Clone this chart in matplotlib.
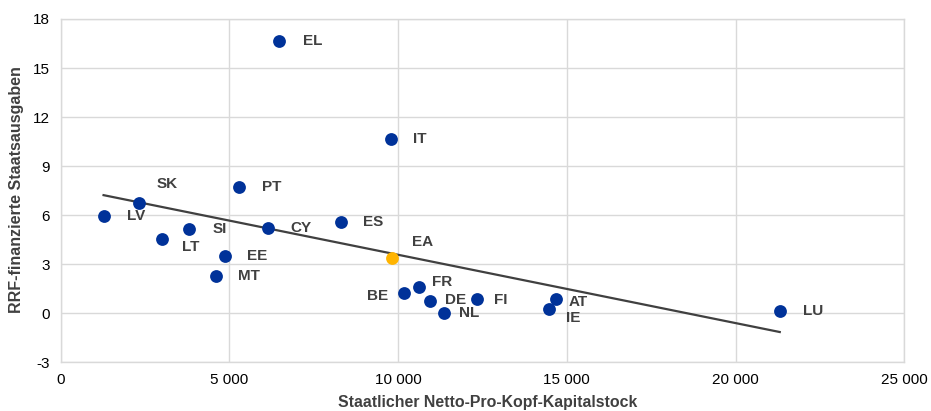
import numpy as np
import matplotlib
matplotlib.use("Agg")
import matplotlib.pyplot as plt
from matplotlib.ticker import FuncFormatter, MultipleLocator

plt.rcParams["font.family"] = ["Liberation Sans", "DejaVu Sans"]

# Country data: net public capital stock per capita vs. RRF-financed expenditure
countries = ["EL", "IT", "PT", "SK", "LV", "SI", "LT", "CY", "EE", "MT",
             "ES", "BE", "FR", "DE", "NL", "FI", "AT", "IE", "LU"]
capital_stock = [6475, 9775, 5280, 2310, 1270, 3810, 2990, 6130, 4870, 4590,
                 8320, 10180, 10610, 10930, 11370, 12350, 14690, 14480, 21310]
rrf_spending = [16.64, 10.66, 7.74, 6.75, 5.95, 5.14, 4.54, 5.24, 3.49, 2.26,
                5.58, 1.26, 1.63, 0.73, 0.0, 0.87, 0.87, 0.28, 0.14]

# Euro area aggregate
ea_label = "EA"
ea_capital_stock = 9830
ea_rrf_spending = 3.36

# Label placement (pixel offsets from each marker, horizontal alignment)
label_offsets = {
    "EL": (24, 0, "left"), "IT": (22, 0, "left"), "PT": (23, 0, "left"),
    "SK": (18, 19, "left"), "LV": (23, 0, "left"), "SI": (23, 0, "left"),
    "LT": (20, -8, "left"), "CY": (23, 0, "left"), "EE": (22, 0, "left"),
    "MT": (22, 0, "left"), "ES": (22, 0, "left"), "BE": (-16, -3, "right"),
    "FR": (13, 5, "left"), "DE": (15, 1, "left"), "NL": (15, 0, "left"),
    "FI": (17, -1, "left"), "AT": (12, -3, "left"), "IE": (17, -9, "left"),
    "LU": (23, 0, "left"), "EA": (20, 16, "left"),
}

BLUE = "#003299"
YELLOW = "#FFB400"
TEXT_GREY = "#404040"
GRID = "#d9d9d9"

fig = plt.figure(figsize=(9.31, 4.11), dpi=100)
ax = fig.add_axes([0.0652, 0.1185, 0.9061, 0.8353])

ax.set_xlim(0, 25000)
ax.set_ylim(-3, 18)
ax.xaxis.set_major_locator(MultipleLocator(5000))
ax.yaxis.set_major_locator(MultipleLocator(3))
ax.xaxis.set_major_formatter(FuncFormatter(lambda v, p: f"{int(v):,}".replace(",", " ")))
ax.yaxis.set_major_formatter(FuncFormatter(lambda v, p: f"{int(v)}"))
ax.tick_params(length=0, labelsize=11, colors="black", pad=8)
ax.grid(True, color=GRID, linewidth=1)
ax.set_axisbelow(True)
for s in ax.spines.values():
    s.set_color(GRID)
    s.set_linewidth(1)

# Linear trend across countries
xs = np.array(capital_stock, dtype=float)
ys = np.array(rrf_spending, dtype=float)
slope, intercept = np.polyfit(xs, ys, 1)
xline = np.array([xs.min(), xs.max()])
ax.plot(xline, slope * xline + intercept, color=TEXT_GREY, linewidth=1.6, zorder=2)

ax.scatter(capital_stock, rrf_spending, s=85, color=BLUE, zorder=3, linewidths=0)
ax.scatter([ea_capital_stock], [ea_rrf_spending], s=85, color=YELLOW, zorder=3, linewidths=0)

for name, x, y in list(zip(countries, capital_stock, rrf_spending)) + [(ea_label, ea_capital_stock, ea_rrf_spending)]:
    dx, dy, ha = label_offsets[name]
    ax.annotate(name, (x, y), xytext=(dx, dy), textcoords="offset pixels",
                ha=ha, va="center", fontsize=11, fontweight="bold", color=TEXT_GREY, zorder=4)

fig.text(0.018, 0.538, "RRF-finanzierte Staatsausgaben", rotation=90, ha="center", va="center",
         fontsize=11.5, fontweight="bold", color=TEXT_GREY)
fig.text(0.524, 0.002, "Staatlicher Netto-Pro-Kopf-Kapitalstock", ha="center", va="bottom",
         fontsize=11.4, fontweight="bold", color=TEXT_GREY)

fig.savefig("out.png", dpi=100)
